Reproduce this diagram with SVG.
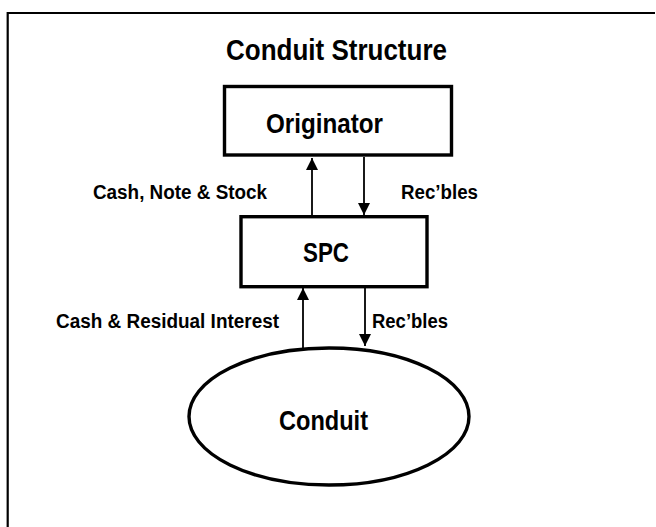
<svg xmlns="http://www.w3.org/2000/svg" width="656" height="527" viewBox="0 0 656 527">
<style>
.frame{fill:none;stroke:#000;stroke-width:2.2}
.node{fill:#fff;stroke:#000;stroke-width:3.4}
.conn{fill:none;stroke:#000;stroke-width:1.8}
text{font-family:"Liberation Sans","Arial",sans-serif;font-weight:bold;fill:#000}
.big{font-size:28px}
.title{font-size:29px}
.lbl{font-size:20px}
</style>
<defs>
<marker id="arrow" markerUnits="userSpaceOnUse" markerWidth="12" markerHeight="12" refX="12" refY="6" orient="auto">
<path d="M0,0 L12,6 L0,12 z" fill="#000"/>
</marker>
</defs>
<rect width="656" height="527" fill="#fff"/>
<path class="frame" d="M7.7,527 L7.7,13 L655,13"/>
<text id="title" class="title" x="226" y="60" textLength="221" lengthAdjust="spacingAndGlyphs">Conduit Structure</text>
<g id="originator">
<rect class="node" x="224.5" y="86.5" width="227" height="68.5"/>
<text class="big" x="266" y="133" textLength="117" lengthAdjust="spacingAndGlyphs">Originator</text>
</g>
<g id="spc">
<rect class="node" x="241" y="216.7" width="186" height="70"/>
<text class="big" x="303" y="262" textLength="46" lengthAdjust="spacingAndGlyphs">SPC</text>
</g>
<g id="conduit">
<ellipse class="node" cx="329" cy="416.5" rx="140" ry="68.5"/>
<text class="big" x="279" y="430" textLength="89" lengthAdjust="spacingAndGlyphs">Conduit</text>
</g>
<g id="connectors">
<line class="conn" x1="312" y1="215" x2="312" y2="158" marker-end="url(#arrow)"/>
<line class="conn" x1="364" y1="157" x2="364" y2="215" marker-end="url(#arrow)"/>
<line class="conn" x1="303" y1="348" x2="303" y2="288" marker-end="url(#arrow)"/>
<line class="conn" x1="365" y1="288" x2="365" y2="346" marker-end="url(#arrow)"/>
<text class="lbl" x="93" y="199" textLength="174" lengthAdjust="spacingAndGlyphs">Cash, Note &amp; Stock</text>
<text class="lbl" x="401" y="199" textLength="77" lengthAdjust="spacingAndGlyphs">Rec’bles</text>
<text class="lbl" x="56" y="328" textLength="223" lengthAdjust="spacingAndGlyphs">Cash &amp; Residual Interest</text>
<text class="lbl" x="372" y="328" textLength="76" lengthAdjust="spacingAndGlyphs">Rec’bles</text>
</g>
</svg>
